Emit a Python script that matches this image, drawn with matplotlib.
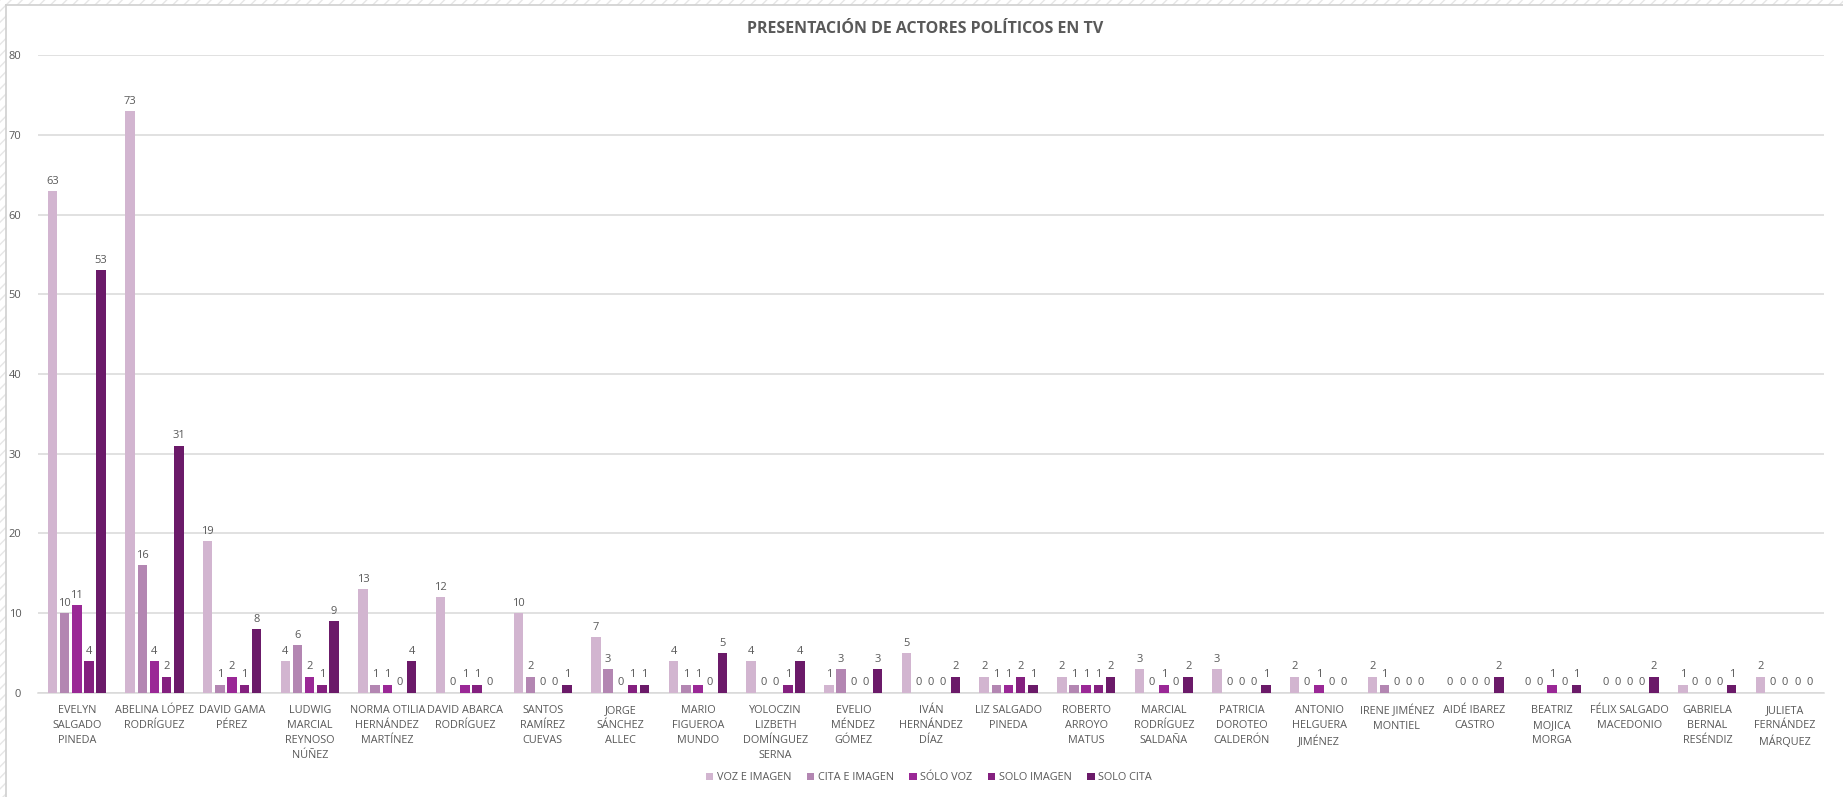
import numpy as np
import matplotlib.pyplot as plt
from matplotlib.patches import Rectangle
from matplotlib.lines import Line2D

actores = ["EVELYN\nSALGADO\nPINEDA", "ABELINA LÓPEZ\nRODRÍGUEZ", "DAVID GAMA\nPÉREZ",
           "LUDWIG\nMARCIAL\nREYNOSO\nNÚÑEZ", "NORMA OTILIA\nHERNÁNDEZ\nMARTÍNEZ",
           "DAVID ABARCA\nRODRÍGUEZ", "SANTOS\nRAMÍREZ\nCUEVAS", "JORGE\nSÁNCHEZ\nALLEC",
           "MARIO\nFIGUEROA\nMUNDO", "YOLOCZIN\nLIZBETH\nDOMÍNGUEZ\nSERNA",
           "EVELIO\nMÉNDEZ\nGÓMEZ", "IVÁN\nHERNÁNDEZ\nDÍAZ", "LIZ SALGADO\nPINEDA",
           "ROBERTO\nARROYO\nMATUS", "MARCIAL\nRODRÍGUEZ\nSALDAÑA",
           "PATRICIA\nDOROTEO\nCALDERÓN", "ANTONIO\nHELGUERA\nJIMÉNEZ",
           "IRENE JIMÉNEZ\nMONTIEL", "AIDÉ IBAREZ\nCASTRO", "BEATRIZ\nMOJICA\nMORGA",
           "FÉLIX SALGADO\nMACEDONIO", "GABRIELA\nBERNAL\nRESÉNDIZ",
           "JULIETA\nFERNÁNDEZ\nMÁRQUEZ"]

voz_imagen  = [63, 73, 19, 4, 13, 12, 10, 7, 4, 4, 1, 5, 2, 2, 3, 3, 2, 2, 0, 0, 0, 1, 2]
cita_imagen = [10, 16, 1, 6, 1, 0, 2, 3, 1, 0, 3, 0, 1, 1, 0, 0, 0, 1, 0, 0, 0, 0, 0]
solo_voz    = [11, 4, 2, 2, 1, 1, 0, 0, 1, 0, 0, 0, 1, 1, 1, 0, 1, 0, 0, 1, 0, 0, 0]
solo_imagen = [4, 2, 1, 1, 0, 1, 0, 1, 0, 1, 0, 0, 2, 1, 0, 0, 0, 0, 0, 0, 0, 0, 0]
solo_cita   = [53, 31, 8, 9, 4, 0, 1, 1, 5, 4, 3, 2, 1, 2, 2, 1, 0, 0, 2, 1, 2, 1, 0]

series = ["VOZ E IMAGEN", "CITA E IMAGEN", "SÓLO VOZ", "SOLO IMAGEN", "SOLO CITA"]
valores = [voz_imagen, cita_imagen, solo_voz, solo_imagen, solo_cita]
colores = ["#D2B5D0", "#B386B2", "#9A2896", "#84207F", "#6B1A69"]

plt.rcParams['font.family'] = ['Open Sans', 'DejaVu Sans']
gris = "#595959"

fig = plt.figure(figsize=(18.43, 7.97), dpi=100)
ax = fig.add_axes([0.0206, 0.131, 0.969, 0.7997])

x = np.arange(len(actores))
paso = 0.157
ancho = 0.122
for i, (nombre, vals, col) in enumerate(zip(series, valores, colores)):
    pos = x + (i - 2) * paso
    barras = ax.bar(pos, vals, ancho, color=col, label=nombre, zorder=3)
    ax.bar_label(barras, labels=[str(v) for v in vals], padding=3,
                 fontsize=8, color=gris)

ax.set_xlim(-0.5, len(actores) - 0.5)
ax.set_ylim(0, 80)
ax.set_yticks(range(0, 81, 10))
ax.yaxis.grid(True, color="#D9D9D9", linewidth=1.1, zorder=0)
ax.set_axisbelow(True)
for s in ["top", "right", "left"]:
    ax.spines[s].set_visible(False)
ax.spines["bottom"].set_color("#D9D9D9")
ax.spines["bottom"].set_linewidth(1.1)
ax.tick_params(axis="both", length=0, colors=gris, labelsize=8)
ax.tick_params(axis="x", pad=9)
ax.tick_params(axis="y", pad=12)
ax.set_xticks(x)
ax.set_xticklabels(actores, fontsize=7.8, color=gris, linespacing=1.5)

fig.text(0.502, 0.964, "PRESENTACIÓN DE ACTORES POLÍTICOS EN TV", ha="center",
         va="center", fontsize=11.5, fontweight="bold", color=gris)

fig.legend(loc="center", bbox_to_anchor=(0.504, 0.024), ncol=5, frameon=False,
           fontsize=7.8, labelcolor=gris, handlelength=0.7, handleheight=0.7,
           handletextpad=0.35, columnspacing=1.4)

# chart frame with hatched border strip
fig.patches.append(Rectangle((0, 0), 0.003, 1, transform=fig.transFigure,
                             facecolor="white", edgecolor="#E6E6E6", hatch="///",
                             linewidth=0))
fig.patches.append(Rectangle((0, 0.9935), 1, 0.0065, transform=fig.transFigure,
                             facecolor="white", edgecolor="#E6E6E6", hatch="///",
                             linewidth=0))
fig.lines.append(Line2D([0.003, 0.003], [0, 0.9935], transform=fig.transFigure,
                        color="#D0D0D0", linewidth=1.2))
fig.lines.append(Line2D([0.003, 1], [0.9935, 0.9935], transform=fig.transFigure,
                        color="#D0D0D0", linewidth=1.2))

fig.savefig("out.png", dpi=100)
